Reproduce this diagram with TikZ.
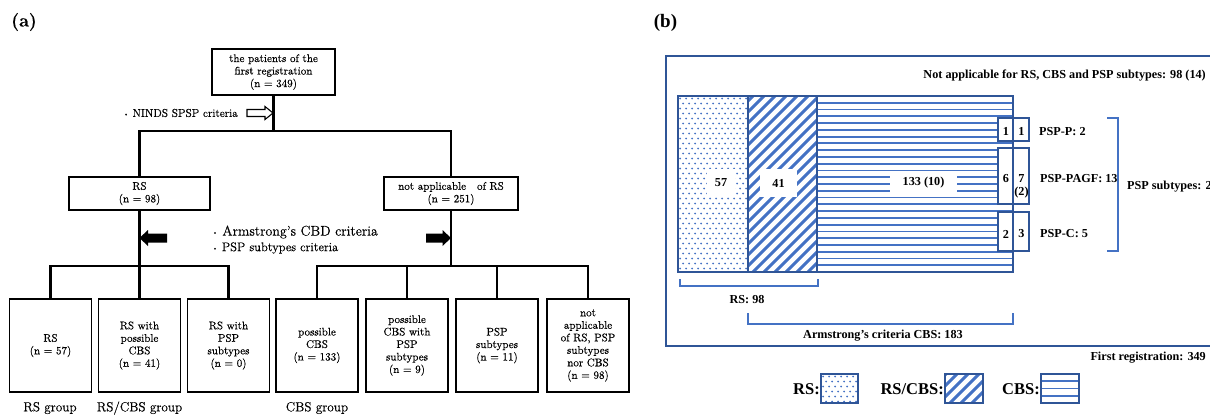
\documentclass[tikz,border=0pt]{standalone}
\usepackage{fontspec}
\newfontfamily\tnr{Liberation Serif}
\newfontfamily\cent{Latin Modern Roman}[FakeBold=0.4]
\definecolor{bl}{HTML}{4472C4}
\definecolor{bld}{HTML}{2F5597}

% small bullet in front of the criteria notes
\newcommand\critdot{\raisebox{0.2ex}{\fontsize{6}{6}\selectfont\textbullet}\ }

% fill patterns for the bar segments and legend swatches
\newcommand\patDots[4]{%
  \begin{scope}
    \clip (#1,#2) rectangle (#3,#4);
    \foreach \j in {0,...,36}{%
      \foreach \i in {0,...,13}{%
        \fill[bl] ({#1+2+\i*6+mod(\j,2)*3},{#2+2.5+\j*5}) circle (1);}}
  \end{scope}}
\newcommand\patHatch[4]{%
  \begin{scope}
    \clip (#1,#2) rectangle (#3,#4);
    \foreach \k in {-20,...,10}{%
      \draw[bl, line width=3pt] ({#1+\k*11},{#4+5}) -- ++(200,-200);}
  \end{scope}}
\newcommand\patLines[5]{%
  \foreach \k in {1,...,#4}{%
    \draw[bl, line width=1.8pt] (#1,{#2+\k*#5}) -- (#3,{#2+\k*#5});}}

\tikzset{
  box/.style={draw, line width=1.5pt, align=center, inner sep=2pt,
    font=\cent\fontsize{11}{12.5}\selectfont},
  leaf/.style={box, minimum width=82pt, minimum height=93pt},
  conn/.style={line width=2.2pt},
  crit/.style={anchor=west, inner sep=0pt},
  grp/.style={font=\cent\fontsize{13.2}{15}\selectfont, inner sep=0pt},
  lbl/.style={font=\tnr\bfseries\fontsize{12.2}{13}\selectfont, inner sep=0pt},
  num/.style={font=\tnr\bfseries\fontsize{12.2}{14}\selectfont, fill=white, inner sep=0pt},
  pbox/.style={draw=bld, line width=1.5pt, fill=white, inner sep=0pt},
  leg/.style={font=\tnr\bfseries\fontsize{16.5}{18}\selectfont, inner sep=0pt, anchor=east},
  brk/.style={bl, line width=1.5pt},
}

\begin{document}
\begin{tikzpicture}[x=1pt, y=-1pt]
\useasboundingbox (0,0) rectangle (1210,416);

% ---------------- panel (a): flow chart ----------------
\node[font=\cent\bfseries\fontsize{18}{20}\selectfont, inner sep=0pt] (tagA) at (24,22) {(a)};

\node[box, minimum width=123pt, minimum height=46pt] (top) at (273.5,72)
  {the patients of the\\first registration\\(n = 349)};
\node[box, minimum width=141pt, minimum height=33pt] (rs) at (139.5,193.5)
  {RS\\(n = 98)};
\node[box, minimum width=134pt, minimum height=33pt] (na) at (451,193.5)
  {not applicable\quad of RS\\(n = 251)};

\node[leaf] (b1) at (50.5,345.5) {RS\\(n = 57)};
\node[leaf] (b2) at (139.5,345.5) {RS with\\possible\\CBS\\(n = 41)};
\node[leaf] (b3) at (228.5,345.5) {RS with\\PSP\\subtypes\\(n = 0)};
\node[leaf] (b4) at (317,345.5) {possible\\CBS\\(n = 133)};
\node[leaf] (b5) at (407,345.5) {possible\\CBS with\\PSP\\subtypes\\(n = 9)};
\node[leaf] (b6) at (497,345.5) {PSP\\subtypes\\(n = 11)};
\node[leaf] (b7) at (588,345.5) {not\\applicable\\of RS, PSP\\subtypes\\nor CBS\\(n = 98)};

\coordinate (j1) at (273.5,131);
\coordinate (j2) at (139.5,266);
\coordinate (j3) at (451,266);

\draw[conn] (top.south) -- (j1);
\draw[conn] (rs.north) |- (j1) -| (na.north);
\draw[conn] (rs.south) -- (j2);
\draw[conn] (b1.north) |- (j2) -| (b3.north);
\draw[conn] (b2.north) -- (j2);
\draw[conn] (na.south) -- (j3);
\draw[conn] (b4.north) |- (j3) -| (b7.north);
\draw[conn] (b5.north) -- (b5.north |- j3);
\draw[conn] (b6.north) -- (b6.north |- j3);

% criteria notes and arrows
\node[crit, anchor=east, font=\cent\fontsize{11.4}{13}\selectfont] (ninds) at (238,113)
  {\critdot NINDS SPSP criteria};
\draw[line width=1.1pt, fill=white] (247,109.5) -- (265,109.5) -- (265,106.5)
  -- (273,113) -- (265,119.5) -- (265,116.5) -- (247,116.5) -- cycle;

\node[crit, font=\cent\fontsize{14}{16}\selectfont] (arm) at (212,232)
  {\critdot Armstrong’s CBD criteria};
\node[crit, font=\cent\fontsize{12.5}{14}\selectfont] (pspc) at (212,248)
  {\critdot PSP subtypes criteria};
\fill (139.5,238) -- (148,230) -- (148,233.5) -- (167,233.5) -- (167,242.5)
  -- (148,242.5) -- (148,246) -- cycle;
\fill (451,238) -- (442.5,230) -- (442.5,233.5) -- (426,233.5) -- (426,242.5)
  -- (442.5,242.5) -- (442.5,246) -- cycle;

\node[grp] (g1) at (50,408) {RS group};
\node[grp] (g2) at (139.5,408) {RS/CBS group};
\node[grp] (g3) at (317,408) {CBS group};

% ---------------- panel (b): proportion bar ----------------
\node[font=\tnr\bfseries\fontsize{19}{21}\selectfont, inner sep=0pt] (tagB) at (665.5,23) {(b)};

\draw[bld, line width=1.5pt] (1210,56) -- (666,56) -- (666,346) -- (1210,346);

\node[lbl, anchor=east] (nap) at (1206,76)
  {Not applicable for RS, CBS and PSP subtypes: 98 (14)};

% bar segments
\patDots{678}{96}{748}{272}
\patHatch{748}{96}{817}{272}
\patLines{817}{96}{1013}{25}{6.77}

\node[num, minimum width=28pt, minimum height=28pt] (n57) at (721,183) {57};
\node[num, minimum width=37pt, minimum height=28pt] (n41) at (778.5,183) {41};
\node[num, minimum width=67pt, minimum height=24pt] (n133) at (923.5,183) {133 (10)};

% PSP subtype cells
\node[pbox, minimum width=15pt, minimum height=23pt] (pPa) at (1005.5,129.5) {};
\node[pbox, minimum width=16pt, minimum height=23pt] (pPb) at (1021,129.5) {};
\node[pbox, minimum width=15pt, minimum height=56pt] (pGa) at (1005.5,176) {};
\node[pbox, minimum width=16pt, minimum height=56pt] (pGb) at (1021,176) {};
\node[pbox, minimum width=15pt, minimum height=39pt] (pCa) at (1005.5,231.5) {};
\node[pbox, minimum width=16pt, minimum height=39pt] (pCb) at (1021,231.5) {};

\draw[bld, line width=1.3pt] (678,96) rectangle (748,272);
\draw[bld, line width=1.3pt] (748,96) rectangle (817,272);
\draw[bld, line width=1.3pt] (817,96) rectangle (1013,272);

\node[lbl] (vPa) at (1006,131.5) {1};
\node[lbl] (vPb) at (1021.5,131.5) {1};
\node[lbl] (vGa) at (1006,179) {6};
\node[lbl, align=center] (vGb) at (1021.5,186.5) {7\\(2)};
\node[lbl] (vCa) at (1006,234) {2};
\node[lbl] (vCb) at (1021.5,234) {3};

\node[lbl, anchor=west] (tP) at (1039,131.5) {PSP-P: 2};
\node[lbl, anchor=west] (tG) at (1040,179) {PSP-PAGF: 13};
\node[lbl, anchor=west] (tC) at (1040,234) {PSP-C: 5};

\draw[brk] (1107,118) -- (1118,118) -- (1118,251) -- (1107,251);
\node[lbl, anchor=west] (tPSP) at (1127,187) {PSP subtypes: 2};

\draw[brk] (680,279) -- (680,286) -- (818,286) -- (818,279);
\node[lbl] (tRS) at (747,300) {RS: 98};
\draw[brk] (748,313) -- (748,324) -- (1013,324) -- (1013,313);
\node[lbl] (tArm) at (883,336) {Armstrong’s criteria CBS: 183};

\node[lbl, anchor=east] (tFirst) at (1206,358) {First registration: 349};

% legend
\node[leg] (lRS) at (820,389) {RS:};
\patDots{821}{374}{858}{403}
\draw[bld, line width=1.3pt] (821,374) rectangle (858,403);
\node[leg] (lRC) at (944,389) {RS/CBS:};
\patHatch{945}{374}{983}{403}
\draw[bld, line width=1.3pt] (945,374) rectangle (983,403);
\node[leg] (lCBS) at (1040,389) {CBS:};
\patLines{1041}{374}{1079}{3}{7.25}
\draw[bld, line width=1.3pt] (1041,374) rectangle (1079,403);
\end{tikzpicture}
\end{document}
